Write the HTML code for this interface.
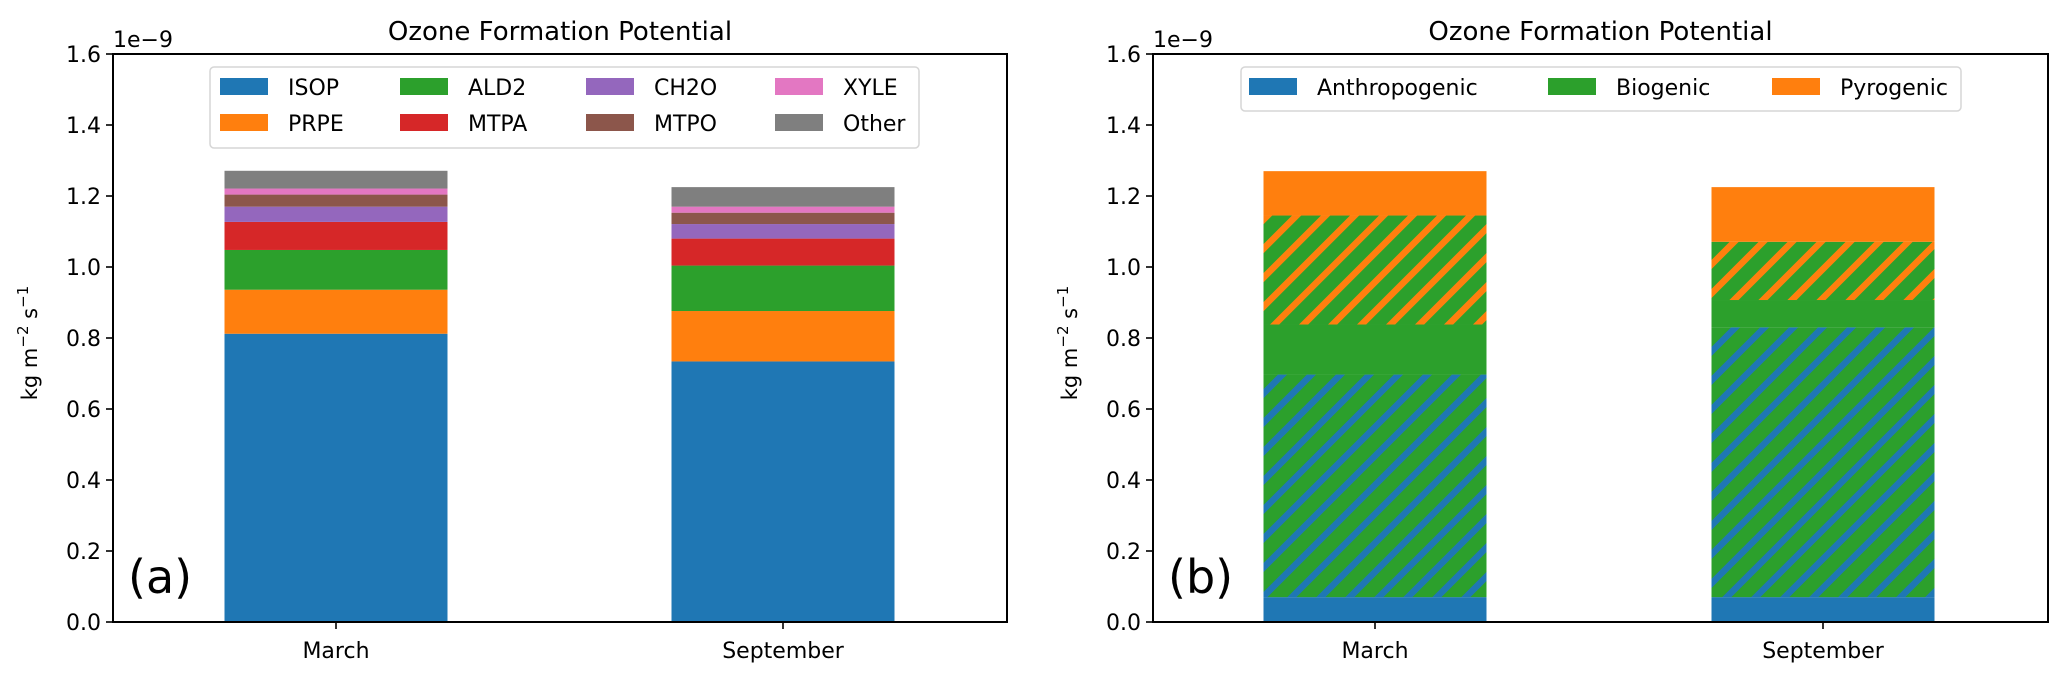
<!DOCTYPE html>
<html><head><meta charset="utf-8"><style>
html,body{margin:0;padding:0;background:#fff;}
svg{display:block;font-family:"DejaVu Sans","Liberation Sans",sans-serif;}
</style></head>
<body>
<svg id="fig" width="2067" height="684" viewBox="0 0 2067 684" xmlns="http://www.w3.org/2000/svg">
<defs>
<pattern id="hatchBlue" patternUnits="userSpaceOnUse" width="20.5" height="20.5" patternTransform="rotate(45)">
<rect x="0" y="0" width="20.5" height="20.5" fill="#2ca02c"/><rect x="0" y="0" width="6.5" height="20.5" fill="#1f77b4"/>
</pattern>
<pattern id="hatchOrange" patternUnits="userSpaceOnUse" width="20.5" height="20.5" patternTransform="rotate(45)">
<rect x="0" y="0" width="20.5" height="20.5" fill="#2ca02c"/><rect x="0" y="0" width="6.5" height="20.5" fill="#ff7f0e"/>
</pattern>
</defs>
</svg>
<script>
const categories = ['March', 'September'];
const speciesNames = ['ISOP','PRPE','ALD2','MTPA','CH2O','MTPO','XYLE','Other'];
const speciesMarch = [0.812,0.124,0.112,0.079,0.043,0.034,0.017,0.050];
const speciesSept = [0.734,0.142,0.128,0.076,0.041,0.032,0.017,0.055];
const sourceSegNames = ['Anthropogenic','Anthro-Bio','Biogenic','Bio-Pyro','Pyrogenic'];
const sourceMarch = [0.070,0.627,0.141,0.307,0.125];
const sourceSept = [0.070,0.760,0.077,0.164,0.154];
const yTicks = [0.0,0.2,0.4,0.6,0.8,1.0,1.2,1.4,1.6];
const yTickLabels = ['0.0','0.2','0.4','0.6','0.8','1.0','1.2','1.4','1.6'];

const NS='http://www.w3.org/2000/svg';
const svg=document.getElementById('fig');
function mk(tag,attrs,parent,text){const e=document.createElementNS(NS,tag);for(const k in attrs)e.setAttribute(k,attrs[k]);if(text!==undefined)e.textContent=text;(parent||svg).appendChild(e);return e;}

const specColors=['#1f77b4','#ff7f0e','#2ca02c','#d62728','#9467bd','#8c564b','#e377c2','#7f7f7f'];
const srcFills=['#1f77b4','url(#hatchBlue)','#2ca02c','url(#hatchOrange)','#ff7f0e'];

function panel(p){
  const g=mk('g',{});
  
  
  const y0=622, yTop=54;
  const yS=v=>y0-(v/1.6)*(y0-yTop);
  const xS=i=>p.x0tick+i*p.unit;
  const half=111.5;
  p.series.forEach((vals,ci)=>{
    let base=0;
    vals.forEach((v,si)=>{
      const r=mk('rect',{x:xS(ci)-half,y:yS(base+v),width:2*half,height:yS(base)-yS(base+v),fill:p.fills[si]},g);
      
      
      base+=v;
    });
  });
  const fr=mk('rect',{x:p.left,y:yTop,width:p.right-p.left,height:y0-yTop,fill:'none',stroke:'#000','stroke-width':2},g);
  
  yTicks.forEach((t,i)=>{
    mk('line',{x1:p.left-7,x2:p.left,y1:yS(t),y2:yS(t),stroke:'#000','stroke-width':1.6},g);
    const tl=mk('text',{x:p.left-12,y:yS(t)+8,'text-anchor':'end','font-size':22},g,yTickLabels[i]);
    
  });
  categories.forEach((c,i)=>{
    mk('line',{x1:xS(i),x2:xS(i),y1:y0,y2:y0+7,stroke:'#000','stroke-width':1.6},g);
    const tl=mk('text',{x:xS(i),y:y0+36,'text-anchor':'middle','font-size':22},g,c);
    
  });
  const off=mk('text',{x:p.left,y:47,'font-size':22},g,'1e\u22129');
  
  const t=mk('text',{x:(p.left+p.right)/2,y:40,'text-anchor':'middle','font-size':26},g,'Ozone Formation Potential');
  
  const yl=mk('text',{transform:`translate(${p.left-76},343) rotate(-90)`,'text-anchor':'middle','font-size':21},g);
  
  mk('tspan',{},yl,'kg m');mk('tspan',{dy:-9,'font-size':15},yl,'\u22122');mk('tspan',{dy:9},yl,' s');mk('tspan',{dy:-9,'font-size':15},yl,'\u22121');
  const pl=mk('text',{x:p.left+15,y:593,'font-size':46},g,p.label);
  
  const lg=mk('g',{},g);
  
  mk('rect',{x:p.leg.x,y:67,width:p.leg.w,height:p.leg.h,rx:4,fill:'#fff','fill-opacity':0.8,stroke:'#d6d6d6','stroke-width':1.5},lg);
  p.leg.items.forEach(it=>{
    const e=mk('g',{},lg);
    
    mk('rect',{x:it.px,y:it.y-9,width:48,height:17,fill:it.c},e);
    mk('text',{x:it.px+68,y:it.y+8,'font-size':22},e,it.t);
  });
}

const legA=[];const colsA=[220,400,586,775];
speciesNames.forEach((n,i)=>{legA.push({px:colsA[Math.floor(i/2)],y:i%2?123:87,c:specColors[i],t:n});});
panel({name:'panel-a',left:113,right:1007,x0tick:336,unit:447,series:[speciesMarch,speciesSept],fills:specColors,segNames:speciesNames,label:'(a)',
  leg:{x:210,w:709,h:81,items:legA}});
panel({name:'panel-b',left:1153,right:2048,x0tick:1375,unit:448,series:[sourceMarch,sourceSept],fills:srcFills,segNames:sourceSegNames,label:'(b)',
  leg:{x:1241,w:720,h:44,items:[{px:1249,y:87,c:'#1f77b4',t:'Anthropogenic'},{px:1548,y:87,c:'#2ca02c',t:'Biogenic'},{px:1772,y:87,c:'#ff7f0e',t:'Pyrogenic'}]}});
</script>
</body></html>
